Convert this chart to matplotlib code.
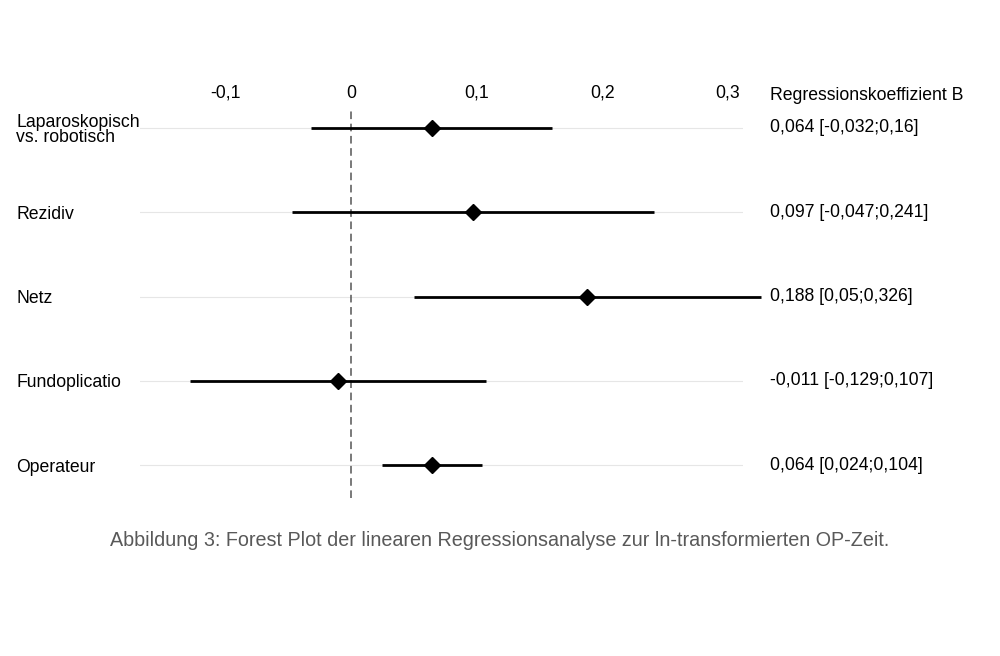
import matplotlib.pyplot as plt

plt.rcParams['font.family'] = ['Liberation Sans', 'DejaVu Sans']

# Data
labels = ['Laparoskopisch\nvs. robotisch', 'Rezidiv', 'Netz', 'Fundoplicatio', 'Operateur']
estimate = [0.064, 0.097, 0.188, -0.011, 0.064]
lower = [-0.032, -0.047, 0.05, -0.129, 0.024]
upper = [0.16, 0.241, 0.326, 0.107, 0.104]
ticks = [-0.1, 0, 0.1, 0.2, 0.3]


def de(v):
    # German decimal comma
    return str(v).replace('.', ',')


fig = plt.figure(figsize=(10, 6.56), dpi=100)
ax = fig.add_axes([0.14, 0.2409, 0.603, 0.5915])

rows = list(range(len(labels)))

for y in rows:
    ax.axhline(y, color='#e6e6e6', lw=0.8, zorder=0)

ax.axvline(0, color='#555555', lw=1.1, ls=(0, (5, 3)), zorder=1)

for y, est, lo, hi in zip(rows, estimate, lower, upper):
    ax.plot([lo, hi], [y, y], color='black', lw=2, solid_capstyle='butt',
            clip_on=False, zorder=2)
    ax.plot(est, y, marker='D', color='black', ms=8, clip_on=False, zorder=3)

ax.set_xlim(-0.1685, 0.312)
ax.set_ylim(4.39, -0.214)

ax.xaxis.tick_top()
ax.set_xticks(ticks)
ax.set_xticklabels([de(t) for t in ticks])
ax.tick_params(axis='x', length=0, pad=6, labelsize=12.7)
ax.set_yticks([])
for s in ax.spines.values():
    s.set_visible(False)

# left labels and right-hand estimate text
for y, lab, est, lo, hi in zip(rows, labels, estimate, lower, upper):
    ax.annotate(lab, xy=(0.016, y), xycoords=('figure fraction', 'data'),
                xytext=(0, -1.5), textcoords='offset points',
                ha='left', va='center', fontsize=12.7, linespacing=0.85)
    ax.annotate(f'{de(est)} [{de(lo)};{de(hi)}]', xy=(0.77, y),
                xycoords=('figure fraction', 'data'),
                ha='left', va='center', fontsize=12.7)

fig.text(0.77, 1 - 95.5 / 656, 'Regressionskoeffizient B', ha='left', va='center',
         fontsize=12.7)

fig.text(0.5, 1 - 541 / 656,
         'Abbildung 3: Forest Plot der linearen Regressionsanalyse zur ln-transformierten OP-Zeit.',
         ha='center', va='center', fontsize=14.2, color='#595959')

plt.savefig('out.png', dpi=100)
